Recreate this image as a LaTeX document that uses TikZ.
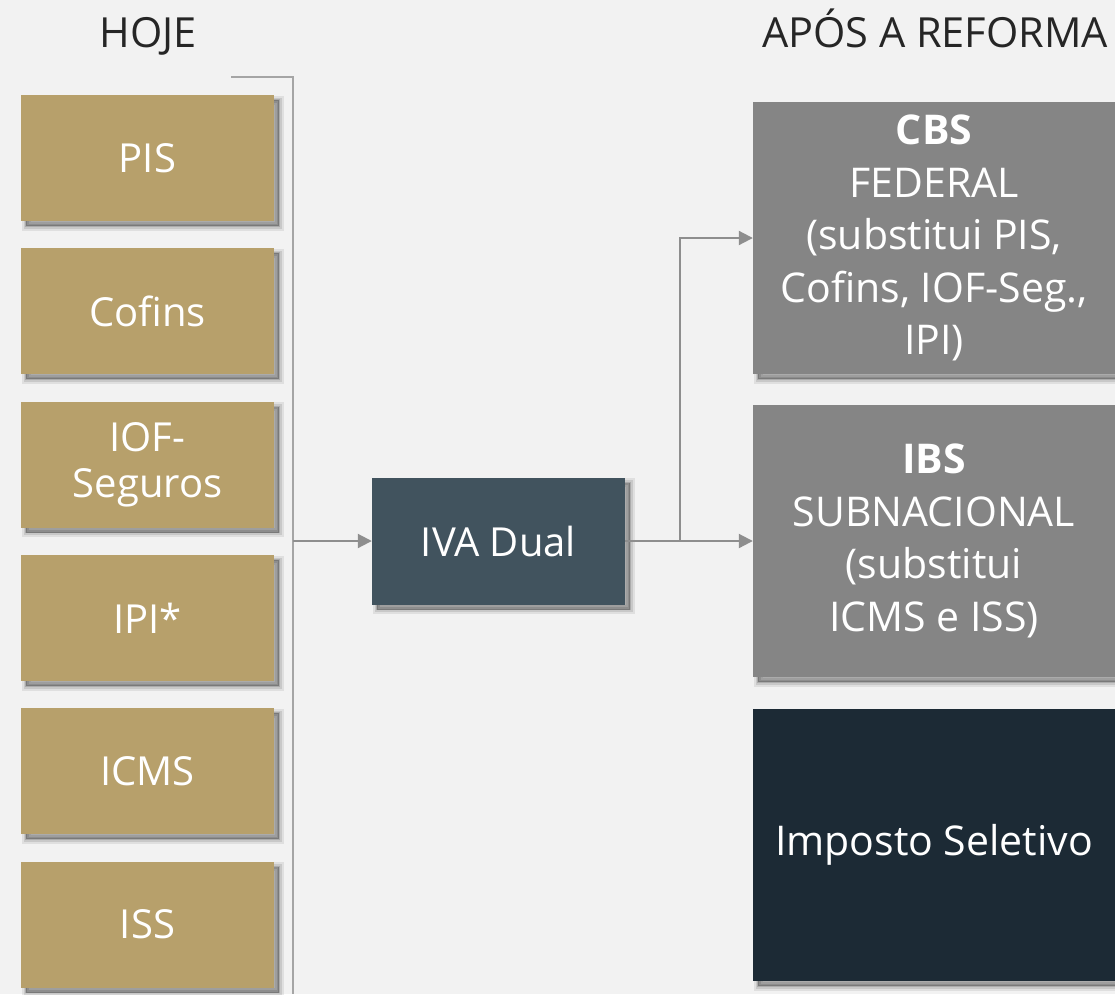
\documentclass[tikz,border=0pt]{standalone}
\usepackage{fontspec}
\setmainfont{Open Sans}
\usetikzlibrary{shadows,arrows.meta}
\definecolor{bg}{HTML}{F2F2F2}
\definecolor{gold}{HTML}{B7A06B}
\definecolor{slate}{HTML}{41535E}
\definecolor{midgray}{HTML}{858585}
\definecolor{navy}{HTML}{1C2A35}
\definecolor{linegray}{HTML}{8E8E8E}
\definecolor{txt}{HTML}{262626}
\tikzset{
  shad/.style={
    drop shadow={shadow xshift=5pt,shadow yshift=-5pt,fill=black,draw=black,line width=9pt,fill opacity=0.08,draw opacity=0.08},
    drop shadow={shadow xshift=5pt,shadow yshift=-5pt,fill=black,draw=black,line width=5pt,fill opacity=0.1,draw opacity=0.1},
    drop shadow={shadow xshift=5pt,shadow yshift=-5pt,fill=black,draw=black,line width=1.5pt,fill opacity=0.14,draw opacity=0.14}},
  goldbox/.style={shad,fill=gold,minimum width=253pt,minimum height=126pt,inner sep=0pt,text=white,align=center,font=\fontsize{40}{46}\selectfont},
  bigbox/.style={shad,minimum width=362pt,minimum height=272pt,inner sep=0pt,text=white,align=center,font=\fontsize{41}{52.5}\selectfont},
  head/.style={text=txt,anchor=base,font=\fontsize{41.5}{46}\selectfont},
  conn/.style={draw=linegray,line width=2pt},
  arr/.style={conn,-{Triangle[length=14pt,width=14pt]}}
}
\begin{document}
\begin{tikzpicture}[x=1pt,y=-1pt]
\fill[bg] (0,0) rectangle (1115,994);
\useasboundingbox (0,0) rectangle (1115,994);
\node[head] (hoje) at (148,47) {HOJE};
\node[head] (apos) at (935,47) {APÓS A REFORMA};
\node[goldbox] (pis) at (147.5,158) {PIS};
\node[goldbox] (cofins) at (147.5,311) {Cofins};
\node[goldbox] (iof) at (147.5,464.5) {IOF-\\Seguros};
\node[goldbox] (ipi) at (147.5,618) {IPI*};
\node[goldbox] (icms) at (147.5,771) {ICMS};
\node[goldbox] (iss) at (147.5,924.5) {ISS};
\coordinate (btop) at (231,77);
\coordinate (bcorner) at (293,77);
\coordinate (bbot) at (293,994);
\coordinate (bmid) at (293,541);
\draw[conn,draw=linegray!80] (btop) -- (bcorner) -- (bbot);
\node[shad,fill=slate,minimum width=253pt,minimum height=127pt,inner sep=0pt,text=white,font=\fontsize{40}{46}\selectfont] (iva) at (498.5,541) {IVA Dual};
\draw[arr] (bmid) -- (iva.west);
\node[bigbox,fill=midgray] (cbs) at (934,238) {\textbf{CBS}\\FEDERAL\\(substitui PIS,\\Cofins, IOF-Seg.,\\IPI)};
\node[bigbox,fill=midgray] (ibs) at (934,541) {\textbf{IBS}\\SUBNACIONAL\\(substitui\\ICMS e ISS)};
\node[bigbox,fill=navy] (is) at (934,845) {Imposto Seletivo};
\coordinate (split) at (680,541);
\draw[arr] (iva.east) -- (ibs.west);
\draw[arr] (iva.east) -- (split) |- (cbs.west);
\end{tikzpicture}
\end{document}
